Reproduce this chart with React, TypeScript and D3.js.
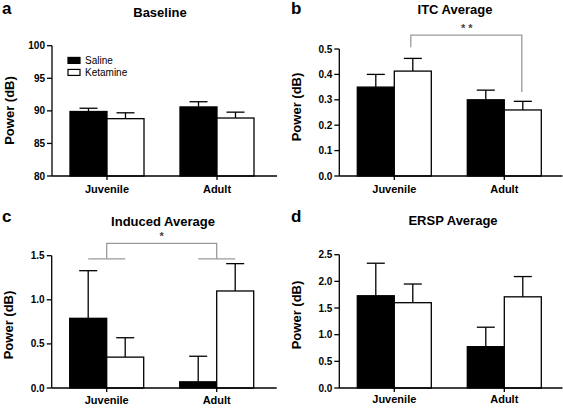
import React from "react";
import * as d3 from "d3";

const categories = ["Juvenile", "Adult"];
const seriesNames = ["Saline", "Ketamine"];

const baselineSaline = [89.9, 90.6];
const baselineSalineErr = [0.5, 0.8];
const baselineKetamine = [88.8, 88.9];
const baselineKetamineErr = [0.9, 0.9];

const itcSaline = [0.35, 0.3];
const itcSalineErr = [0.05, 0.038];
const itcKetamine = [0.413, 0.26];
const itcKetamineErr = [0.05, 0.034];

const inducedSaline = [0.79, 0.07];
const inducedSalineErr = [0.54, 0.29];
const inducedKetamine = [0.35, 1.1];
const inducedKetamineErr = [0.22, 0.31];

const erspSaline = [1.73, 0.775];
const erspSalineErr = [0.61, 0.365];
const erspKetamine = [1.6, 1.71];
const erspKetamineErr = [0.35, 0.38];

const baselineTicks = [80, 85, 90, 95, 100];
const itcTicks = [0, 0.1, 0.2, 0.3, 0.4, 0.5];
const inducedTicks = [0, 0.5, 1.0, 1.5];
const erspTicks = [0, 0.5, 1.0, 1.5, 2.0, 2.5];

const FONT = "'Liberation Sans', Arial, Helvetica, sans-serif";

type Bracket =
  | { kind: "itc"; top: number; leftDrop: number; rightDrop: number; stars: string }
  | { kind: "group"; top: number; drop: number; stars: string };

interface PanelProps {
  letter: string;
  title: string;
  titleX: number;
  titleY: number;
  letterX: number;
  letterY: number;
  axisX: number;
  axisEnd: number;
  yTop: number;
  yBottom: number;
  domain: [number, number];
  ticks: number[];
  fmt: (v: number) => string;
  saline: number[];
  salineErr: number[];
  ketamine: number[];
  ketamineErr: number[];
  labelY: number;
  catLabelY: number;
  legend?: boolean;
  bracket?: Bracket;
}

function Panel(p: PanelProps) {
  const y = d3.scaleLinear().domain(p.domain).range([p.yBottom, p.yTop]);
  const start = p.axisX + 18;
  const x = d3
    .scaleBand<string>()
    .domain(categories)
    .range([start, start + 110 + 74])
    .paddingInner(36 / 110)
    .paddingOuter(0);
  const inner = d3.scaleBand<string>().domain(seriesNames).range([0, x.bandwidth()]);
  const bw = inner.bandwidth();
  const data = categories.map((c, i) => ({
    c,
    vals: [
      { s: "Saline", v: p.saline[i], e: p.salineErr[i], fill: "#000" },
      { s: "Ketamine", v: p.ketamine[i], e: p.ketamineErr[i], fill: "#fff" },
    ],
  }));
  const cx = (c: string, s: string) => (x(c) as number) + (inner(s) as number) + bw / 2;
  const grey = "#9a9a9a";
  let bracketEl: React.ReactNode = null;
  if (p.bracket) {
    const b = p.bracket;
    if (b.kind === "itc") {
      const x1 = cx("Juvenile", "Ketamine") - 2;
      const x2 = cx("Adult", "Ketamine") - 1;
      const path = d3.path();
      path.moveTo(x1, y(b.leftDrop));
      path.lineTo(x1, y(b.top));
      path.lineTo(x2, y(b.top));
      path.lineTo(x2, y(b.rightDrop));
      bracketEl = (
        <g>
          <path d={path.toString()} fill="none" stroke={grey} strokeWidth={1.3} />
          <text
            x={(x1 + x2) / 2 + 0.5}
            y={y(b.top) - 3}
            textAnchor="middle"
            fontFamily={FONT}
            fontWeight="bold"
            fontSize={11}
            fill="#444"
          >
            {b.stars}
          </text>
        </g>
      );
    } else {
      const xa = (x("Juvenile") as number) + x.bandwidth() / 2;
      const xb = (x("Adult") as number) + x.bandwidth() / 2;
      const path = d3.path();
      path.moveTo(xa, y(b.drop));
      path.lineTo(xa, y(b.top));
      path.lineTo(xb, y(b.top));
      path.lineTo(xb, y(b.drop));
      categories.forEach((c) => {
        path.moveTo(cx(c, "Saline"), y(b.drop));
        path.lineTo(cx(c, "Ketamine"), y(b.drop));
      });
      bracketEl = (
        <g>
          <path d={path.toString()} fill="none" stroke={grey} strokeWidth={1.3} />
          <text
            x={(xa + xb) / 2}
            y={y(b.top) - 3}
            textAnchor="middle"
            fontFamily={FONT}
            fontWeight="bold"
            fontSize={11}
            fill="#444"
          >
            {b.stars}
          </text>
        </g>
      );
    }
  }
  return (
    <g>
      <text x={p.letterX} y={p.letterY} fontFamily={FONT} fontWeight="bold" fontSize={17} fill="#000">
        {p.letter}
      </text>
      <text
        x={p.titleX}
        y={p.titleY}
        textAnchor="middle"
        fontFamily={FONT}
        fontWeight="bold"
        fontSize={13}
        fill="#000"
      >
        {p.title}
      </text>
      <text
        transform={`translate(${p.axisX - 38.5},${p.labelY}) rotate(-90)`}
        textAnchor="middle"
        fontFamily={FONT}
        fontWeight="bold"
        fontSize={13}
        fill="#000"
      >
        Power (dB)
      </text>
      {/* bars */}
      {data.map((g) =>
        g.vals.map((d) => {
          const bx = (x(g.c) as number) + (inner(d.s) as number);
          const top = y(d.v);
          const ex = bx + bw / 2;
          const ey = y(d.v + d.e);
          return (
            <g key={g.c + d.s}>
              <line x1={ex} x2={ex} y1={top} y2={ey} stroke="#000" strokeWidth={1.3} />
              <line x1={ex - 9} x2={ex + 9} y1={ey} y2={ey} stroke="#000" strokeWidth={1.3} />
              <rect
                x={bx}
                y={top}
                width={bw}
                height={p.yBottom - top}
                fill={d.fill}
                stroke="#000"
                strokeWidth={1.3}
              />
            </g>
          );
        })
      )}
      {/* y axis */}
      <line x1={p.axisX} x2={p.axisX} y1={p.yTop} y2={p.yBottom} stroke="#000" strokeWidth={1.3} />
      {p.ticks.map((t) => (
        <g key={t}>
          <line x1={p.axisX - 5} x2={p.axisX} y1={y(t)} y2={y(t)} stroke="#000" strokeWidth={1.3} />
          <text
            x={p.axisX - 7}
            y={y(t)}
            dy="0.35em"
            textAnchor="end"
            fontFamily={FONT}
            fontWeight="bold"
            fontSize={10}
            fill="#000"
          >
            {p.fmt(t)}
          </text>
        </g>
      ))}
      {/* x axis */}
      <line x1={p.axisX} x2={p.axisEnd} y1={p.yBottom} y2={p.yBottom} stroke="#000" strokeWidth={1.3} />
      {categories.map((c) => {
        const mx = (x(c) as number) + x.bandwidth() / 2;
        return (
          <g key={c}>
            <line x1={mx} x2={mx} y1={p.yBottom} y2={p.yBottom + 4} stroke="#000" strokeWidth={1.3} />
            <text
              x={mx}
              y={p.catLabelY}
              textAnchor="middle"
              fontFamily={FONT}
              fontWeight="bold"
              fontSize={11}
              fill="#000"
            >
              {c}
            </text>
          </g>
        );
      })}
      {bracketEl}
      {p.legend && (
        <g>
          {seriesNames.map((s, i) => (
            <g key={s}>
              <rect
                x={p.axisX + 16}
                y={y(98.2) + i * 12}
                width={12}
                height={6}
                fill={i === 0 ? "#000" : "#fff"}
                stroke="#000"
                strokeWidth={1.2}
              />
              <text
                x={p.axisX + 33}
                y={y(98.2) + i * 12 + 3}
                dy="0.35em"
                fontFamily={FONT}
                fontSize={10}
                fill="#000"
              >
                {s}
              </text>
            </g>
          ))}
        </g>
      )}
    </g>
  );
}

const f0 = d3.format("d");
const f1 = d3.format(".1f");

export default function App() {
  return (
    <svg
      width={563}
      height={408}
      style={{ position: "absolute", left: 0, top: 0, background: "#fff" }}
    >
      <rect width={563} height={408} fill="#fff" />
      <Panel
        letter="a"
        title="Baseline"
        titleX={160}
        titleY={16.5}
        letterX={2}
        letterY={14}
        axisX={52}
        axisEnd={277}
        yTop={45.7}
        yBottom={176}
        domain={[80, 100]}
        ticks={baselineTicks}
        fmt={f0}
        saline={baselineSaline}
        salineErr={baselineSalineErr}
        ketamine={baselineKetamine}
        ketamineErr={baselineKetamineErr}
        labelY={110.5}
        catLabelY={193}
        legend
      />
      <Panel
        letter="b"
        title="ITC Average"
        titleX={455}
        titleY={14}
        letterX={291}
        letterY={13.5}
        axisX={339.3}
        axisEnd={562.5}
        yTop={49}
        yBottom={176}
        domain={[0, 0.5]}
        ticks={itcTicks}
        fmt={f1}
        saline={itcSaline}
        salineErr={itcSalineErr}
        ketamine={itcKetamine}
        ketamineErr={itcKetamineErr}
        labelY={107}
        catLabelY={193}
        bracket={{ kind: "itc", top: 0.555, leftDrop: 0.507, rightDrop: 0.331, stars: "* *" }}
      />
      <Panel
        letter="c"
        title="Induced Average"
        titleX={163}
        titleY={226}
        letterX={2}
        letterY={222}
        axisX={51.7}
        axisEnd={276.7}
        yTop={255.7}
        yBottom={388}
        domain={[0, 1.5]}
        ticks={inducedTicks}
        fmt={f1}
        saline={inducedSaline}
        salineErr={inducedSalineErr}
        ketamine={inducedKetamine}
        ketamineErr={inducedKetamineErr}
        labelY={325}
        catLabelY={403.5}
        bracket={{ kind: "group", top: 1.64, drop: 1.463, stars: "*" }}
      />
      <Panel
        letter="d"
        title="ERSP Average"
        titleX={453}
        titleY={225}
        letterX={291}
        letterY={222}
        axisX={339.3}
        axisEnd={562.5}
        yTop={254.7}
        yBottom={388}
        domain={[0, 2.5]}
        ticks={erspTicks}
        fmt={f1}
        saline={erspSaline}
        salineErr={erspSalineErr}
        ketamine={erspKetamine}
        ketamineErr={erspKetamineErr}
        labelY={315}
        catLabelY={403}
      />
    </svg>
  );
}
